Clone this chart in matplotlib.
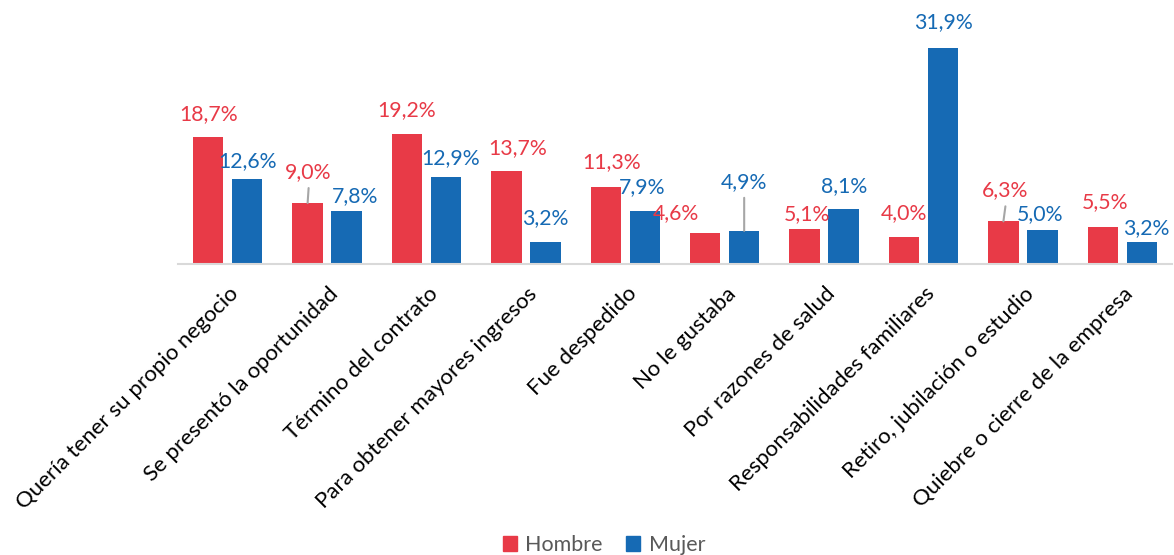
import matplotlib
matplotlib.use("Agg")
import matplotlib.pyplot as plt
import matplotlib.transforms as mtransforms
from matplotlib.patches import Patch
import numpy as np

# Motivos de salida del trabajo anterior, por sexo (%)
categorias = [
    "Quería tener su propio negocio",
    "Se presentó la oportunidad",
    "Término del contrato",
    "Para obtener mayores ingresos",
    "Fue despedido",
    "No le gustaba",
    "Por razones de salud",
    "Responsabilidades familiares",
    "Retiro, jubilación o estudio",
    "Quiebre o cierre de la empresa",
]
hombre = [18.7, 9.0, 19.2, 13.7, 11.3, 4.6, 5.1, 4.0, 6.3, 5.5]
mujer = [12.6, 7.8, 12.9, 3.2, 7.9, 4.9, 8.1, 31.9, 5.0, 3.2]
series_nombres = ["Hombre", "Mujer"]

# Label placement (pixel offsets from the top of each bar) and leader lines
off_h = [(0, 23), (1, 31), (0, 24), (11, 23), (6, 25), (-29, 20), (2, 15), (0, 24), (2, 31), (2, 25)]
off_m = [(0, 18), (8, 15), (5, 19), (0, 24), (-3, 23), (0, 49), (1, 23), (0, 26), (-2, 16), (4, 14)]
guia_h = [False, True, False, False, False, False, False, False, True, False]
guia_m = [False, False, False, False, False, True, False, False, False, False]

ROJO = "#E83A47"
AZUL = "#166AB4"
FUENTE = ["Lato", "DejaVu Sans"]

plt.rcParams["font.family"] = FUENTE

fig = plt.figure(figsize=(11.74, 5.55), dpi=100)
ax = fig.add_axes([178 / 1174, 291 / 555, 994 / 1174, 237 / 555])

x = np.arange(len(categorias))
ancho = 0.307
sep = 0.196
b1 = ax.bar(x - sep, hombre, ancho, color=ROJO, zorder=2)
b2 = ax.bar(x + sep, mujer, ancho, color=AZUL, zorder=2)

ax.set_xlim(-0.5, len(categorias) - 0.5)
ax.set_ylim(0, 35)

for s in ["top", "right", "left"]:
    ax.spines[s].set_visible(False)
ax.spines["bottom"].set_color("#D9D9D9")
ax.spines["bottom"].set_linewidth(1.5)
ax.set_yticks([])


def rotular(barras, valores, offs, guias, color):
    for rect, v, (dx, dy), g in zip(barras, valores, offs, guias):
        cx = rect.get_x() + rect.get_width() / 2
        ax.annotate(
            f"{v:.1f}%".replace(".", ","),
            xy=(cx, v), xytext=(dx, dy), textcoords="offset pixels",
            ha="center", va="center", fontsize=15.3, color=color,
        )
        if g:
            ax.annotate(
                "", xy=(cx, v), xytext=(dx, dy - 16), textcoords="offset pixels",
                arrowprops=dict(arrowstyle="-", color="#A6A6A6", lw=1.5,
                                shrinkA=0, shrinkB=0),
            )


rotular(b1, hombre, off_h, guia_h, ROJO)
rotular(b2, mujer, off_m, guia_m, AZUL)

ax.set_xticks(x)
ax.set_xticklabels(categorias, rotation=45, ha="right", rotation_mode="anchor",
                   fontsize=16, color="#000000")
ax.tick_params(axis="x", length=0, pad=14)
desplaza = mtransforms.ScaledTranslation(1 / 100, 0, fig.dpi_scale_trans)
for lab in ax.get_xticklabels():
    lab.set_transform(lab.get_transform() + desplaza)

handles = [Patch(color=ROJO), Patch(color=AZUL)]
fig.legend(handles, series_nombres, loc="center", bbox_to_anchor=(604 / 1174, 1 - 545 / 555),
           ncol=2, frameon=False, fontsize=15.5, handlelength=0.65, handleheight=0.65,
           handletextpad=0.4, columnspacing=1.1, labelcolor="#595959")

fig.savefig("out.png", dpi=100)
